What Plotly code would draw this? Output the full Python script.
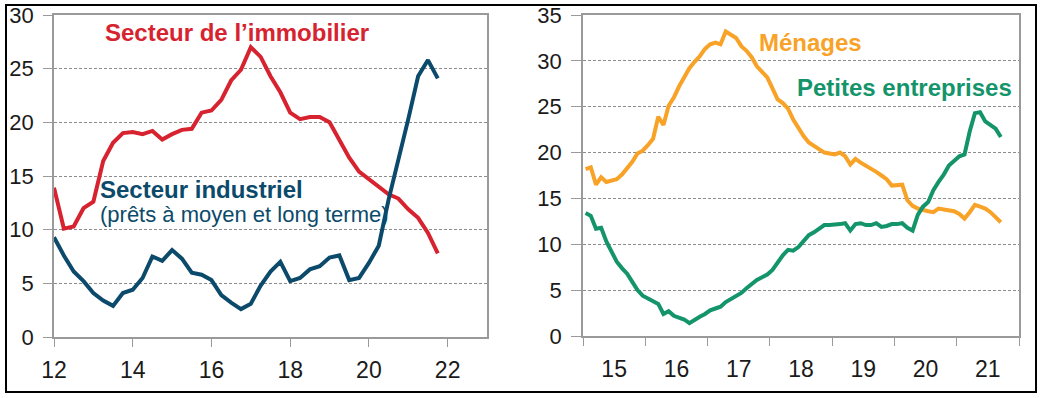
import plotly.graph_objects as go

# ---------------- data ----------------
# Left panel: quarterly, 2012Q1 .. 2021Q4 (x in years, "12" = 2012)
left_start = 12.0
left_step = 0.25
immobilier = [13.9, 10.1, 10.3, 12.0, 12.6, 16.4, 18.1, 19.0, 19.1, 18.9,
              19.2, 18.4, 18.9, 19.3, 19.4, 20.9, 21.1, 22.1, 23.9, 24.9,
              27.0, 26.1, 24.3, 22.8, 20.9, 20.3, 20.5, 20.5, 20.0, 18.3,
              16.7, 15.4, 14.7, 13.9, 13.3, 12.9, 11.9, 11.1, 9.7, 7.8]
industriel = [9.3, 7.6, 6.1, 5.2, 4.1, 3.4, 2.9, 4.1, 4.4, 5.5,
              7.5, 7.1, 8.1, 7.3, 6.0, 5.8, 5.3, 3.9, 3.2, 2.6,
              3.1, 4.8, 6.1, 7.0, 5.2, 5.5, 6.3, 6.6, 7.4, 7.6,
              5.3, 5.5, 6.9, 8.5, 12.8, 16.5, 20.3, 24.3, 25.8, 24.1]

# Right panel: monthly, Jan 2015 .. Sep 2021
right_start = 15.0
menages = [18.2, 18.4, 16.5, 17.3, 16.8, 16.9, 17.1, 17.6, 18.3, 19.0,
           19.9, 20.2, 20.8, 21.5, 23.9, 23.0, 25.1, 26.0, 27.2, 28.2,
           29.2, 29.9, 30.5, 31.3, 31.8, 32.0, 31.8, 33.2, 32.9, 32.5,
           31.6, 31.1, 30.4, 29.4, 28.8, 28.2, 27.0, 25.8, 25.4, 24.8,
           23.6, 22.6, 21.8, 21.1, 20.7, 20.3, 20.0, 19.9, 19.8, 20.0,
           19.6, 18.7, 19.3, 18.9, 18.6, 18.3, 17.9, 17.5, 17.1, 16.4,
           16.5, 16.5, 14.8, 14.2, 13.9, 13.7, 13.6, 13.5, 13.9, 13.8,
           13.7, 13.6, 13.3, 12.8, 13.5, 14.3, 14.1, 13.9, 13.5, 13.0,
           12.4]
petites = [13.4, 13.1, 11.7, 11.8, 10.3, 9.2, 8.1, 7.4, 6.8, 5.9,
           5.0, 4.4, 4.1, 3.7, 3.5, 2.4, 2.7, 2.2, 2.0, 1.8,
           1.4, 1.8, 2.1, 2.4, 2.8, 3.0, 3.2, 3.7, 4.0, 4.3,
           4.7, 5.2, 5.7, 6.1, 6.4, 6.7, 7.2, 8.0, 8.8, 9.4,
           9.3, 9.7, 10.3, 11.0, 11.3, 11.7, 12.1, 12.1, 12.1, 12.2,
           12.3, 11.5, 12.2, 12.3, 12.1, 12.1, 12.3, 11.9, 12.0, 12.2,
           12.2, 12.3, 11.8, 11.5, 13.2, 14.1, 14.6, 15.9, 16.8, 17.6,
           18.6, 19.1, 19.6, 19.8, 22.3, 24.3, 24.4, 23.4, 23.0, 22.6,
           21.7]

left_ticks = [12, 14, 16, 18, 20, 22]
right_years = [15, 16, 17, 18, 19, 20, 21]
right_ticktext = [str(y) for y in right_years]

x_left = [left_start + left_step * i for i in range(len(immobilier))]
x_right = [right_start + (i + 0.5) / 12 for i in range(len(menages))]

# ---------------- style ----------------
RED = "#D6232F"
BLUE = "#0C4A6B"
ORANGE = "#F8A227"
GREEN = "#14946A"
AXIS = "#9a9a9a"
GRID = "#8c8c8c"
FONT = "Liberation Sans, Arial, sans-serif"
W, H = 1045, 398

fig = go.Figure()
fig.add_trace(go.Scatter(x=x_left, y=immobilier, mode="lines",
                         line=dict(color=RED, width=4), xaxis="x", yaxis="y",
                         showlegend=False))
fig.add_trace(go.Scatter(x=x_left, y=industriel, mode="lines",
                         line=dict(color=BLUE, width=4), xaxis="x", yaxis="y",
                         showlegend=False))
fig.add_trace(go.Scatter(x=x_right, y=menages, mode="lines",
                         line=dict(color=ORANGE, width=4), xaxis="x2", yaxis="y2",
                         showlegend=False))
fig.add_trace(go.Scatter(x=x_right, y=petites, mode="lines",
                         line=dict(color=GREEN, width=4), xaxis="x2", yaxis="y2",
                         showlegend=False))

def px_x(p):
    return p / W

def px_y(p):
    return 1 - p / H

yfont = dict(family=FONT, size=22, color="#1a1a1a")
xfont = dict(family=FONT, size=23, color="#1a1a1a")
common = dict(showline=True, linecolor=AXIS, linewidth=1.5, mirror=True,
              zeroline=False, automargin=False,
              tickcolor=AXIS, tickwidth=1)

fig.update_layout(
    template="none",
    width=W, height=H,
    margin=dict(l=0, r=0, t=0, b=0, pad=0),
    paper_bgcolor="white", plot_bgcolor="white",
    showlegend=False,
    xaxis=dict(domain=[px_x(54), px_x(487)], range=[12, 23], anchor="y",
               tickmode="array", tickvals=left_ticks,
               ticktext=[str(t) for t in left_ticks],
               ticks="outside", ticklen=8, showgrid=False, tickfont=xfont,
               ticklabelstandoff=4, **common),
    yaxis=dict(domain=[px_y(337), px_y(15)], range=[0, 30], anchor="x",
               tickmode="array", tickvals=[0, 5, 10, 15, 20, 25, 30],
               ticks="outside", ticklen=9, tickfont=yfont, ticklabelstandoff=5,
               showgrid=True, gridcolor=GRID, gridwidth=1, griddash="3px,2px",
               **common),
    xaxis2=dict(domain=[px_x(583), px_x(1019)], range=[15, 22], anchor="y2",
                tickmode="array", tickvals=[y + 0.5 for y in right_years],
                ticktext=right_ticktext, ticks="", tickfont=xfont,
                ticklabelstandoff=12,
                minor=dict(tick0=15, dtick=1, ticks="outside", ticklen=8,
                           tickcolor=AXIS, tickwidth=1, showgrid=False),
                showgrid=False, **common),
    yaxis2=dict(domain=[px_y(336), px_y(15)], range=[0, 35], anchor="x2",
                tickmode="array", tickvals=[0, 5, 10, 15, 20, 25, 30, 35],
                ticks="outside", ticklen=10, tickfont=yfont, ticklabelstandoff=5,
                showgrid=True, gridcolor=GRID, gridwidth=1, griddash="3px,2px",
                **common),
)

fig.add_shape(type="rect", xref="paper", yref="paper",
              x0=px_x(6), x1=px_x(1036), y0=px_y(392), y1=px_y(5),
              line=dict(color="black", width=2), fillcolor="rgba(0,0,0,0)")

ann = [
    dict(text="<b>Secteur de l’immobilier</b>", x=13.25, y=28.4, xref="x", yref="y",
         color=RED, size=24),
    dict(text="<b>Secteur industriel</b>", x=13.13, y=13.7, xref="x", yref="y",
         color=BLUE, size=24),
    dict(text="(prêts à moyen et long terme)", x=13.12, y=11.4, xref="x", yref="y",
         color=BLUE, size=22),
    dict(text="<b>Ménages</b>", x=17.79, y=32.05, xref="x2", yref="y2",
         color=ORANGE, size=24),
    dict(text="<b>Petites entreprises</b>", x=18.40, y=27.15, xref="x2", yref="y2",
         color=GREEN, size=24),
]
for a in ann:
    fig.add_annotation(text=a["text"], x=a["x"], y=a["y"], xref=a["xref"], yref=a["yref"],
                       xanchor="left", yanchor="middle", showarrow=False,
                       font=dict(family=FONT, size=a["size"], color=a["color"]))

fig.write_html("out.html", config={"displayModeBar": False},
               post_script="document.body.style.margin='0px';")
